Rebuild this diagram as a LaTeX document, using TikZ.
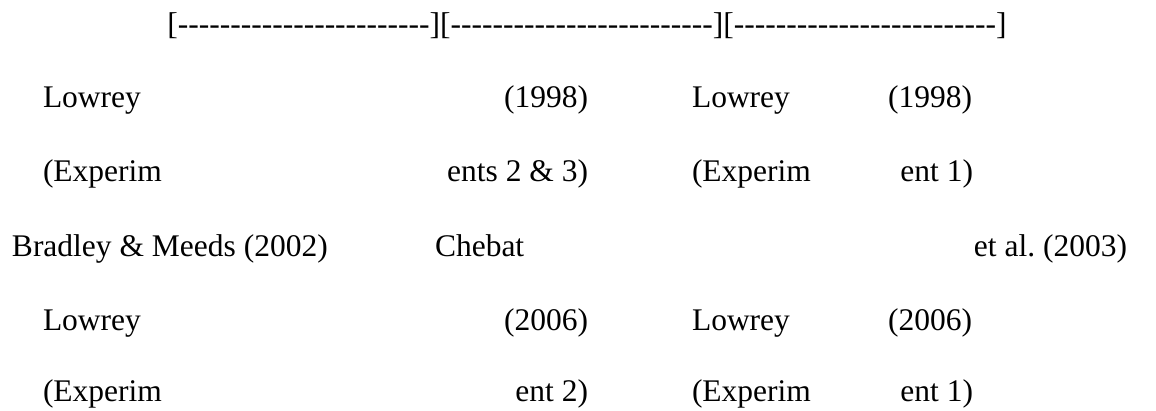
\documentclass[tikz,border=0pt]{standalone}
\usepackage{fontspec}
\setmainfont{Liberation Serif}
\frenchspacing
\ExplSyntaxOn
\NewDocumentCommand\hyphs{m}{\prg_replicate:nn{#1}{-{}}}
\ExplSyntaxOff
\begin{document}
\begin{tikzpicture}[x=1pt,y=-1pt,
  txt/.style={inner sep=0pt, outer sep=0pt, font=\fontsize{31.5}{38}\selectfont},
  lft/.style={txt, anchor=base west},
  rgt/.style={txt, anchor=base east}]
\useasboundingbox (0,0) rectangle (1156,410);
\node[txt, anchor=base] (bar) at (587,34) {[\hyphs{24}][\hyphs{25}][\hyphs{25}]};
% row 1
\node[lft] (l1a) at (43,107) {Lowrey};
\node[rgt] (y1a) at (588,107) {(1998)};
\node[lft] (l1b) at (692,107) {Lowrey};
\node[rgt] (y1b) at (972,107) {(1998)};
% row 2
\node[lft] (e2a) at (43,181) {(Experim};
\node[rgt] (n2a) at (588,181) {ents 2 \& 3)};
\node[lft] (e2b) at (692,181) {(Experim};
\node[rgt] (n2b) at (973,181) {ent 1)};
% row 3
\node[lft] (bm) at (12,256) {Bradley \& Meeds (2002)};
\node[lft] (ch) at (435,256) {Chebat};
\node[rgt] (ea) at (1127,256) {et al.\ (2003)};
% row 4
\node[lft] (l4a) at (43,330) {Lowrey};
\node[rgt] (y4a) at (588,330) {(2006)};
\node[lft] (l4b) at (692,330) {Lowrey};
\node[rgt] (y4b) at (972,330) {(2006)};
% row 5
\node[lft] (e5a) at (43,401) {(Experim};
\node[rgt] (n5a) at (588,401) {ent 2)};
\node[lft] (e5b) at (692,401) {(Experim};
\node[rgt] (n5b) at (973,401) {ent 1)};
\end{tikzpicture}
\end{document}
